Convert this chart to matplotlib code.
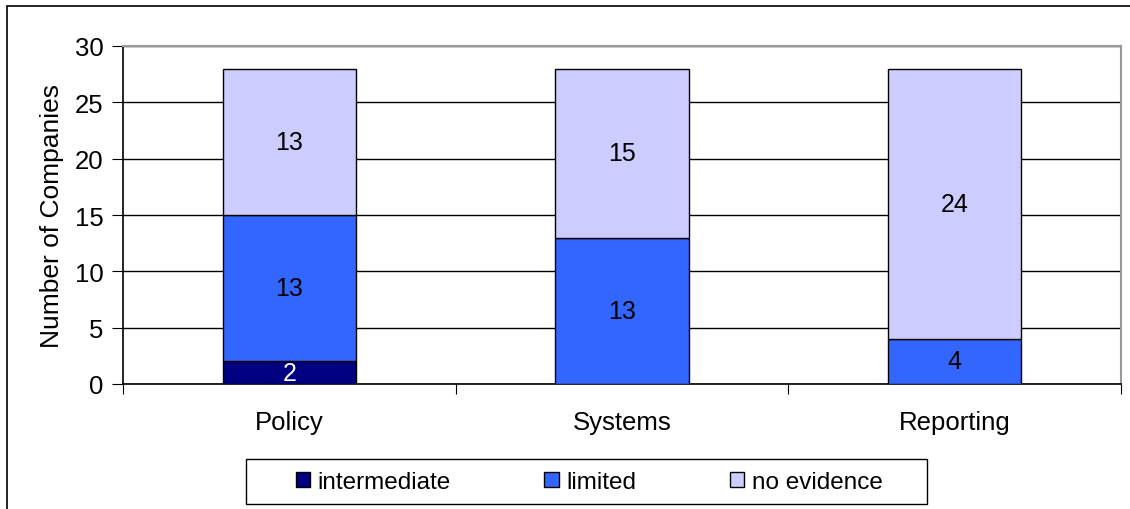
import numpy as np
import matplotlib.pyplot as plt
from matplotlib.patches import Rectangle

plt.rcParams['font.family'] = ['Liberation Sans', 'DejaVu Sans']

# data
categories = ["Policy", "Systems", "Reporting"]
series_names = ["intermediate", "limited", "no evidence"]
intermediate = [2, 0, 0]
limited = [13, 13, 4]
no_evidence = [13, 15, 24]
colors = ["#000080", "#3366FF", "#CCCCFF"]
label_colors = ["white", "black", "black"]

fig = plt.figure(figsize=(11.3, 5.1), dpi=100)
ax = fig.add_axes([123 / 1130, 125 / 510, 998 / 1130, 338 / 510])

# outer chart frame
fig.patches.append(Rectangle((7 / 1130, -0.05), 1.2, (503 / 510) + 0.05,
                             transform=fig.transFigure, fill=False,
                             edgecolor="black", linewidth=1.2))

x = np.arange(len(categories))
bottom = np.zeros(len(categories))
for vals, name, c, lc in zip([intermediate, limited, no_evidence], series_names,
                             colors, label_colors):
    vals = np.array(vals)
    bars = ax.bar(x, vals, width=0.4, bottom=bottom, color=c, edgecolor="black",
                  linewidth=1.0, label=name, zorder=3)
    for b, v, bt in zip(bars, vals, bottom):
        if v > 0:
            ax.text(b.get_x() + b.get_width() / 2, bt + v / 2, str(v),
                    ha="center", va="center", fontsize=18, color=lc, zorder=4)
    bottom = bottom + vals

ax.set_xlim(-0.5, 2.5)
ax.set_ylim(0, 30)
ax.set_yticks(range(0, 31, 5))
ax.yaxis.grid(True, color="black", linewidth=1.0, zorder=0)
ax.set_axisbelow(True)

ax.set_xticks([-0.5, 0.5, 1.5, 2.5])
ax.set_xticklabels([])
ax.set_xticks(x, minor=True)
ax.set_xticklabels(categories, minor=True)
ax.tick_params(axis="x", which="major", direction="out", length=7, color="black")
ax.tick_params(axis="x", which="minor", length=0, pad=19, labelsize=18.5)
ax.tick_params(axis="y", direction="out", length=8, labelsize=18.5, pad=6)

for s in ["top", "right"]:
    ax.spines[s].set_color("#999999")
    ax.spines[s].set_linewidth(1.5)
for s in ["left", "bottom"]:
    ax.spines[s].set_color("black")
    ax.spines[s].set_linewidth(1.2)

ax.set_ylabel("Number of Companies", fontsize=19, labelpad=8)

# legend (box drawn separately, it is wider than the entries)
fig.patches.append(Rectangle((246 / 1130, 1 - 505 / 510), 681 / 1130, 45 / 510,
                             transform=fig.transFigure, fill=False,
                             edgecolor="black", linewidth=1.0))
leg = fig.legend(loc="center", bbox_to_anchor=(589 / 1130, 1 - 483 / 510), ncol=3,
                 fontsize=17.5, frameon=False,
                 handlelength=0.6, handleheight=0.6, handletextpad=0.3,
                 columnspacing=3.85, borderpad=0.5)

fig.savefig("out.png", dpi=100)
